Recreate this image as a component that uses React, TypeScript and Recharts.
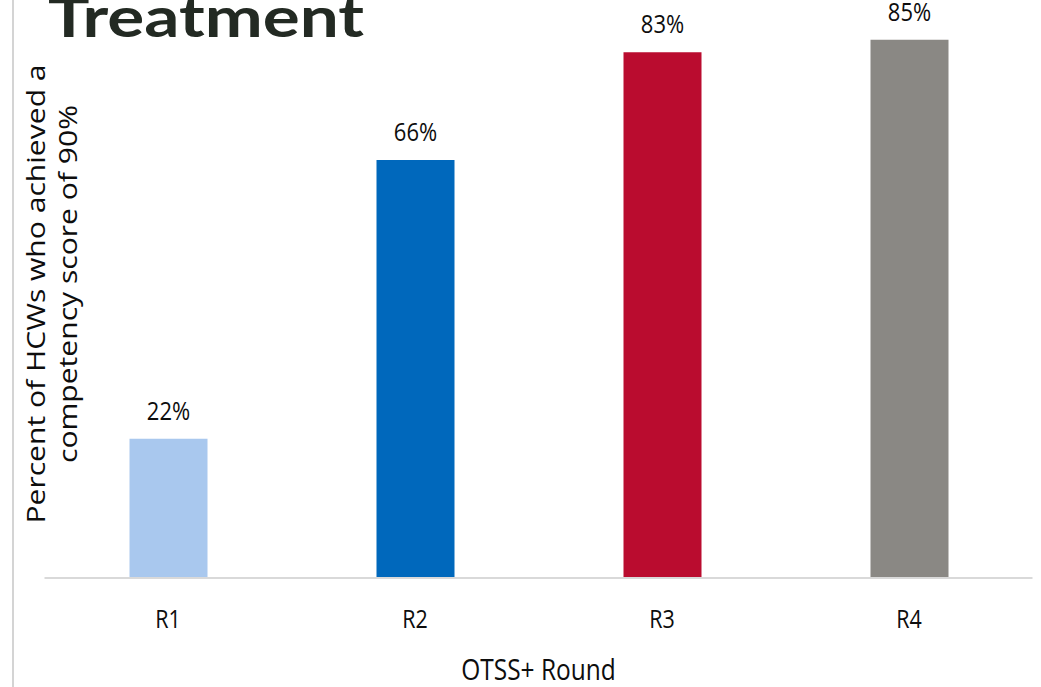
import React from 'react'
import { BarChart, Bar, XAxis, YAxis, Cell, LabelList } from 'recharts'

// chart data
const rounds = ['R1', 'R2', 'R3', 'R4']
const percentAchieved = [22, 66, 83, 85]
const barColors = ['#A9C8EE', '#0068BC', '#BA0C2F', '#8A8884']

const rows = rounds.map((round, i) => ({ round, value: percentAchieved[i] }))

const W = 1041
const H = 687
// the source picture is stretched a little vertically, so text gets the same stretch
const STRETCH = 1.18
const FONT = '"Open Sans", "Noto Sans", sans-serif'

function RoundTick(props: any) {
  const { x, y, payload } = props
  return (
    <g transform={`translate(${x},${y + 50}) scale(1,${STRETCH})`}>
      <text x={0} y={0} textAnchor="middle" fontFamily={FONT} fontSize={21.5} fill="#0d0d0d">
        {payload.value}
      </text>
    </g>
  )
}

function PctLabel(props: any) {
  const { x, y, width, value } = props
  return (
    <g transform={`translate(${x + width / 2},${y - 19}) scale(1,${STRETCH})`}>
      <text x={0} y={0} textAnchor="middle" fontFamily={FONT} fontSize={22} fill="#0d0d0d">
        {`${value}%`}
      </text>
    </g>
  )
}

export default function App() {
  return (
    <div style={{ position: 'absolute', left: 0, top: 0, width: W, height: H, background: '#fff', overflow: 'hidden' }}>
      <BarChart
        width={W}
        height={H}
        data={rows}
        margin={{ top: 8, right: 8.5, bottom: 0, left: 44.5 }}
      >
        <XAxis
          dataKey="round"
          height={109}
          axisLine={{ stroke: '#D9D9D9', strokeWidth: 2 }}
          tickLine={false}
          tickSize={0}
          tickMargin={0}
          tick={<RoundTick />}
          interval={0}
        />
        <YAxis hide domain={[0, 90]} />
        <Bar dataKey="value" barSize={78} isAnimationActive={false}>
          {rows.map((r, i) => (
            <Cell key={r.round} fill={barColors[i]} />
          ))}
          <LabelList dataKey="value" content={<PctLabel />} />
        </Bar>
      </BarChart>

      {/* title, axis titles and slide edge */}
      <svg
        width={W}
        height={H}
        style={{ position: 'absolute', left: 0, top: 0, pointerEvents: 'none' }}
      >
        <line x1={13} y1={0} x2={13} y2={687} stroke="#D4D4D4" strokeWidth={2} />
        <text
          x={48}
          y={37}
          fontFamily="Lato, sans-serif"
          fontWeight={700}
          fontSize={55}
          fill="#232A23"
          textLength={316}
          lengthAdjust="spacingAndGlyphs"
        >
          Treatment
        </text>
        <g transform={`translate(45,294) rotate(-90) scale(${STRETCH},1)`}>
          <text x={0} y={0} textAnchor="middle" fontFamily={FONT} fontSize={25.5} fill="#0d0d0d">
            Percent of HCWs who achieved a
          </text>
        </g>
        <g transform={`translate(77,284) rotate(-90) scale(${STRETCH},1)`}>
          <text x={0} y={0} textAnchor="middle" fontFamily={FONT} fontSize={25.5} fill="#0d0d0d">
            competency score of 90%
          </text>
        </g>
        <g transform={`translate(538.5,680) scale(1,${STRETCH})`}>
          <text x={0} y={0} textAnchor="middle" fontFamily={FONT} fontSize={24.5} fill="#0d0d0d">
            OTSS+ Round
          </text>
        </g>
      </svg>
    </div>
  )
}
